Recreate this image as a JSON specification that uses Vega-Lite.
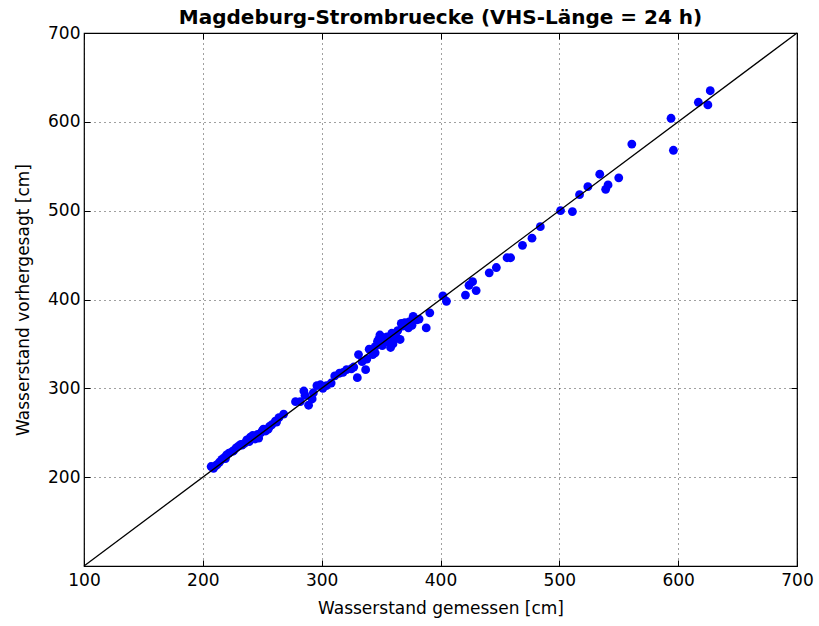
{
  "$schema": "https://vega.github.io/schema/vega-lite/v6.json",
  "width": 713,
  "height": 533,
  "autosize": {"type": "none"},
  "padding": {"left": 84, "top": 33, "right": 22, "bottom": 60},
  "background": "white",
  "title": {
    "text": "Magdeburg-Strombruecke (VHS-Länge = 24 h)",
    "font": "DejaVu Sans",
    "fontSize": 20,
    "fontWeight": "bold",
    "color": "black",
    "offset": -4,
    "anchor": "middle"
  },
  "config": {
    "view": {"stroke": "black", "strokeWidth": 1.2},
    "axis": {
      "labelFont": "DejaVu Sans",
      "labelFontSize": 17,
      "labelColor": "black",
      "labelFlush": false,
      "labelOverlap": false,
      "titleFont": "DejaVu Sans",
      "titleFontSize": 17,
      "titleFontWeight": "normal",
      "titleColor": "black",
      "domain": false,
      "grid": true,
      "gridColor": "black",
      "gridDash": [1, 4],
      "gridWidth": 1,
      "gridOpacity": 0.75,
      "tickColor": "black",
      "tickSize": -6,
      "tickWidth": 1
    }
  },
  "resolve": {"axis": {"x": "independent", "y": "independent"}},
  "layer": [
    {
      "data": {
        "values": [
          {"gemessen": 207, "vorhergesagt": 212}, {"gemessen": 209, "vorhergesagt": 210},
          {"gemessen": 211, "vorhergesagt": 213}, {"gemessen": 212, "vorhergesagt": 214},
          {"gemessen": 214, "vorhergesagt": 217}, {"gemessen": 216, "vorhergesagt": 220},
          {"gemessen": 218, "vorhergesagt": 222}, {"gemessen": 219, "vorhergesagt": 221},
          {"gemessen": 220, "vorhergesagt": 225}, {"gemessen": 222, "vorhergesagt": 227},
          {"gemessen": 225, "vorhergesagt": 229}, {"gemessen": 226, "vorhergesagt": 230},
          {"gemessen": 228, "vorhergesagt": 233}, {"gemessen": 230, "vorhergesagt": 235},
          {"gemessen": 232, "vorhergesagt": 237}, {"gemessen": 233, "vorhergesagt": 236},
          {"gemessen": 235, "vorhergesagt": 238}, {"gemessen": 237, "vorhergesagt": 242},
          {"gemessen": 239, "vorhergesagt": 240}, {"gemessen": 240, "vorhergesagt": 245},
          {"gemessen": 242, "vorhergesagt": 247}, {"gemessen": 244, "vorhergesagt": 243},
          {"gemessen": 246, "vorhergesagt": 248}, {"gemessen": 247, "vorhergesagt": 244},
          {"gemessen": 249, "vorhergesagt": 250}, {"gemessen": 250, "vorhergesagt": 252},
          {"gemessen": 251, "vorhergesagt": 254}, {"gemessen": 253, "vorhergesagt": 252},
          {"gemessen": 255, "vorhergesagt": 254}, {"gemessen": 256, "vorhergesagt": 257},
          {"gemessen": 258, "vorhergesagt": 259}, {"gemessen": 261, "vorhergesagt": 263},
          {"gemessen": 262, "vorhergesagt": 262}, {"gemessen": 264, "vorhergesagt": 267},
          {"gemessen": 268, "vorhergesagt": 271}, {"gemessen": 278, "vorhergesagt": 285},
          {"gemessen": 282, "vorhergesagt": 285}, {"gemessen": 285, "vorhergesagt": 297},
          {"gemessen": 286, "vorhergesagt": 292}, {"gemessen": 289, "vorhergesagt": 281},
          {"gemessen": 292, "vorhergesagt": 288}, {"gemessen": 293, "vorhergesagt": 295},
          {"gemessen": 296, "vorhergesagt": 303}, {"gemessen": 299, "vorhergesagt": 304},
          {"gemessen": 301, "vorhergesagt": 300}, {"gemessen": 304, "vorhergesagt": 303},
          {"gemessen": 308, "vorhergesagt": 306}, {"gemessen": 311, "vorhergesagt": 314},
          {"gemessen": 315, "vorhergesagt": 317}, {"gemessen": 318, "vorhergesagt": 318},
          {"gemessen": 321, "vorhergesagt": 321}, {"gemessen": 325, "vorhergesagt": 322},
          {"gemessen": 327, "vorhergesagt": 324}, {"gemessen": 330, "vorhergesagt": 312},
          {"gemessen": 331, "vorhergesagt": 338}, {"gemessen": 334, "vorhergesagt": 330},
          {"gemessen": 337, "vorhergesagt": 321}, {"gemessen": 338, "vorhergesagt": 333},
          {"gemessen": 340, "vorhergesagt": 344}, {"gemessen": 343, "vorhergesagt": 338},
          {"gemessen": 345, "vorhergesagt": 340}, {"gemessen": 345, "vorhergesagt": 347},
          {"gemessen": 347, "vorhergesagt": 353}, {"gemessen": 348, "vorhergesagt": 355},
          {"gemessen": 349, "vorhergesagt": 360}, {"gemessen": 351, "vorhergesagt": 348},
          {"gemessen": 352, "vorhergesagt": 357}, {"gemessen": 355, "vorhergesagt": 358},
          {"gemessen": 356, "vorhergesagt": 352}, {"gemessen": 358, "vorhergesagt": 346},
          {"gemessen": 359, "vorhergesagt": 362}, {"gemessen": 360, "vorhergesagt": 350},
          {"gemessen": 360, "vorhergesagt": 357}, {"gemessen": 362, "vorhergesagt": 360},
          {"gemessen": 363, "vorhergesagt": 357}, {"gemessen": 364, "vorhergesagt": 365},
          {"gemessen": 366, "vorhergesagt": 355}, {"gemessen": 367, "vorhergesagt": 373},
          {"gemessen": 368, "vorhergesagt": 370}, {"gemessen": 370, "vorhergesagt": 374},
          {"gemessen": 373, "vorhergesagt": 368}, {"gemessen": 374, "vorhergesagt": 375},
          {"gemessen": 376, "vorhergesagt": 371}, {"gemessen": 377, "vorhergesagt": 381},
          {"gemessen": 380, "vorhergesagt": 377}, {"gemessen": 382, "vorhergesagt": 378},
          {"gemessen": 388, "vorhergesagt": 368}, {"gemessen": 391, "vorhergesagt": 385},
          {"gemessen": 402, "vorhergesagt": 404}, {"gemessen": 405, "vorhergesagt": 398},
          {"gemessen": 421, "vorhergesagt": 405}, {"gemessen": 424, "vorhergesagt": 416},
          {"gemessen": 427, "vorhergesagt": 420}, {"gemessen": 430, "vorhergesagt": 410},
          {"gemessen": 441, "vorhergesagt": 430}, {"gemessen": 447, "vorhergesagt": 436},
          {"gemessen": 456, "vorhergesagt": 447}, {"gemessen": 459, "vorhergesagt": 447},
          {"gemessen": 469, "vorhergesagt": 461}, {"gemessen": 477, "vorhergesagt": 469},
          {"gemessen": 484, "vorhergesagt": 482}, {"gemessen": 501, "vorhergesagt": 500},
          {"gemessen": 511, "vorhergesagt": 499}, {"gemessen": 517, "vorhergesagt": 518},
          {"gemessen": 524, "vorhergesagt": 527}, {"gemessen": 534, "vorhergesagt": 541},
          {"gemessen": 539, "vorhergesagt": 524}, {"gemessen": 541, "vorhergesagt": 529},
          {"gemessen": 550, "vorhergesagt": 537}, {"gemessen": 561, "vorhergesagt": 575},
          {"gemessen": 594, "vorhergesagt": 604}, {"gemessen": 596, "vorhergesagt": 568},
          {"gemessen": 617, "vorhergesagt": 622}, {"gemessen": 625, "vorhergesagt": 619},
          {"gemessen": 627, "vorhergesagt": 635}
        ]
      },
      "mark": {"type": "point", "filled": true, "shape": "circle", "size": 78, "color": "#0000ff", "opacity": 1},
      "encoding": {
        "x": {
          "field": "gemessen", "type": "quantitative",
          "scale": {"domain": [100, 700], "nice": false, "zero": false},
          "axis": {"title": "Wasserstand gemessen [cm]", "values": [100, 200, 300, 400, 500, 600, 700], "labelPadding": 12, "titlePadding": 12}
        },
        "y": {
          "field": "vorhergesagt", "type": "quantitative",
          "scale": {"domain": [100, 700], "nice": false, "zero": false},
          "axis": {"title": "Wasserstand vorhergesagt [cm]", "values": [200, 300, 400, 500, 600, 700], "labelPadding": 10, "titlePadding": 15}
        }
      }
    },
    {
      "data": {"values": [{"gemessen": 100, "vorhergesagt": 100}, {"gemessen": 700, "vorhergesagt": 700}]},
      "mark": {"type": "line", "color": "black", "strokeWidth": 1.3},
      "encoding": {
        "x": {
          "field": "gemessen", "type": "quantitative",
          "scale": {"domain": [100, 700], "nice": false, "zero": false},
          "axis": {"orient": "top", "title": null, "labels": false, "grid": false, "values": [100, 200, 300, 400, 500, 600, 700]}
        },
        "y": {
          "field": "vorhergesagt", "type": "quantitative",
          "scale": {"domain": [100, 700], "nice": false, "zero": false},
          "axis": {"orient": "right", "title": null, "labels": false, "grid": false, "values": [200, 300, 400, 500, 600, 700]}
        }
      }
    }
  ]
}
